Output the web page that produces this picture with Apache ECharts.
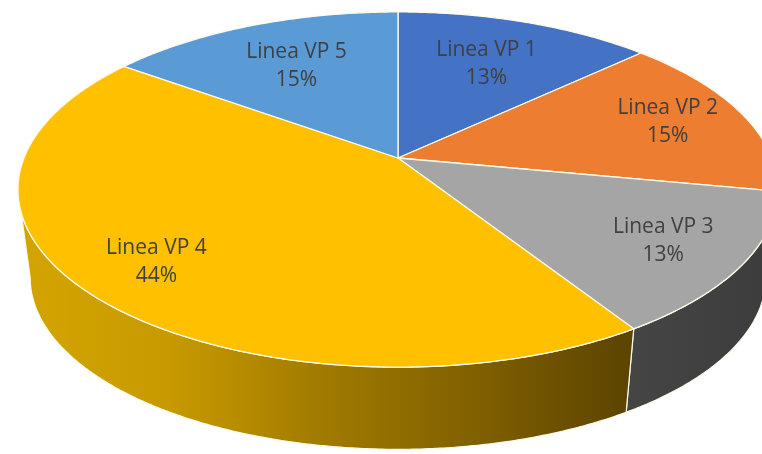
<!DOCTYPE html>
<html>
<head>
<meta charset="utf-8">
<script src="https://cdn.jsdelivr.net/npm/echarts@6/dist/echarts.min.js"></script>
<style>
  html, body { margin: 0; padding: 0; background: #ffffff; }
  #chart { width: 762px; height: 454px; }
</style>
</head>
<body>
<div id="chart"></div>
<script>
// ---- data ----
const categories = ['Linea VP 1', 'Linea VP 2', 'Linea VP 3', 'Linea VP 4', 'Linea VP 5'];
const values = [13, 15, 13, 44, 15];

// ---- styles ----
const topColors = ['#4472C4', '#ED7D31', '#A5A5A5', '#FFC000', '#5B9BD5'];
const sideGradients = [
  ['#2F4F88', '#1F3560'],
  ['#A55620', '#703A15'],
  ['#454545', '#3C3C3C'],
  ['#D4A500', '#C79900', '#A07A00', '#7F5F00', '#5B4300'],
  ['#3F6C95', '#2B4A66']
];
const labelRadius = [0.66, 0.78, 0.79, 0.8, 0.66];

// ---- perspective layout of the 3D pie ----
const CX = 398, CY = 158;      // projected pie centre (top face)
const A = 374, B = 172;        // top face scale
const AB = 362, BB = 166.4;    // bottom face scale
const DEPTH = 89;              // vertical offset of bottom face
const M = 0.1775;              // perspective factor

function proj(r, ang, bottom) {
  const u = r * Math.sin(ang), v = -r * Math.cos(ang);
  const w = 1 - M * v;
  if (bottom) return [CX + AB * u / w, CY + DEPTH + BB * v / w];
  return [CX + A * u / w, CY + B * v / w];
}

const total = values.reduce((s, v) => s + v, 0);
const cum = [];
values.reduce((s, v, i) => { cum[i] = s; return s + v; }, 0);
const TAU = Math.PI * 2;
const angR = Math.acos(-M);
const angL = TAU - angR;

function sliceAngles(i, val) {
  const a0 = cum[i] / total * TAU;
  return [a0, a0 + val / total * TAU];
}

function arcPoints(a0, a1, bottom) {
  const n = Math.max(4, Math.ceil((a1 - a0) / (Math.PI / 360)));
  const pts = [];
  for (let k = 0; k <= n; k++) pts.push(proj(1, a0 + (a1 - a0) * k / n, bottom));
  return pts;
}

const data = categories.map((c, i) => ({ name: c, value: values[i] }));

const chart = echarts.init(document.getElementById('chart'), null, { renderer: 'canvas' });
chart.setOption({
  backgroundColor: '#ffffff',
  animation: false,
  series: [
    {
      type: 'custom',
      name: 'side',
      coordinateSystem: 'none',
      z: 1,
      data: data,
      renderItem: function (params, api) {
        const i = params.dataIndex;
        const [a0, a1] = sliceAngles(i, api.value(0));
        const s = Math.max(a0, angR), e = Math.min(a1, angL);
        if (e <= s) return null;
        const top = arcPoints(s, e, false);
        const bot = arcPoints(s, e, true).reverse();
        const g = sideGradients[i];
        const stops = g.map((c, k) => ({ offset: k / (g.length - 1), color: c }));
        return {
          type: 'polygon',
          shape: { points: top.concat(bot) },
          style: {
            fill: new echarts.graphic.LinearGradient(0, 0, 1, 0, stops),
            stroke: '#FFFBEA',
            lineWidth: 1.2,
            lineJoin: 'round'
          }
        };
      }
    },
    {
      type: 'custom',
      name: 'top',
      coordinateSystem: 'none',
      z: 2,
      data: data,
      renderItem: function (params, api) {
        const i = params.dataIndex;
        const [a0, a1] = sliceAngles(i, api.value(0));
        const pts = [[CX, CY]].concat(arcPoints(a0, a1, false));
        return {
          type: 'polygon',
          shape: { points: pts },
          style: {
            fill: topColors[i],
            stroke: '#FFFBEA',
            lineWidth: 1.3,
            lineJoin: 'round'
          }
        };
      }
    },
    {
      type: 'custom',
      name: 'labels',
      coordinateSystem: 'none',
      z: 3,
      data: data,
      renderItem: function (params, api) {
        const i = params.dataIndex;
        const val = api.value(0);
        const [a0, a1] = sliceAngles(i, val);
        const p = proj(labelRadius[i], (a0 + a1) / 2, false);
        return {
          type: 'text',
          style: {
            text: categories[i] + '\n' + Math.round(val / total * 100) + '%',
            x: p[0],
            y: p[1],
            align: 'center',
            verticalAlign: 'middle',
            fill: '#404040',
            fontSize: 21,
            fontFamily: '"Open Sans", "Noto Sans", sans-serif',
            lineHeight: 28
          }
        };
      }
    }
  ]
});
</script>
</body>
</html>
